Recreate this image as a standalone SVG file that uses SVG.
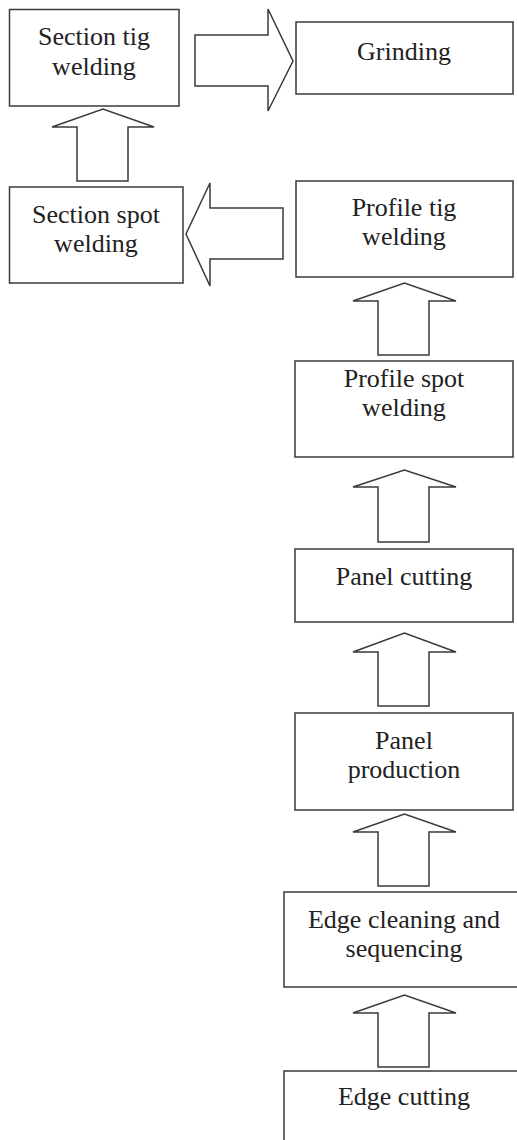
<svg xmlns="http://www.w3.org/2000/svg" width="517" height="1140" viewBox="0 0 517 1140">
<style>
.box{fill:#fff;stroke:#3a3a3a;stroke-width:1.5}
.arr{fill:#fff;stroke:#3a3a3a;stroke-width:1.5;stroke-linejoin:miter}
text{font-family:"Liberation Serif","Times New Roman",serif;font-size:26px;fill:#222;text-anchor:middle}
</style>
<rect width="517" height="1140" fill="#fff"/>
<g id="connectors">
<polygon class="arr" points="195,35 268,35 268,9 293,61 268,111 268,86 195,86"/>
<polygon class="arr" points="77,181 77,127 52,127 103,109 154,127 128,127 128,181"/>
<polygon class="arr" points="283,208 210,208 210,183 186,234 210,286 210,259 283,259"/>
<polygon class="arr" points="378,355 378,301 353,301 404.5,283 456,301 429,301 429,355"/>
<polygon class="arr" points="378,542 378,487 353,487 404.5,470 456,487 429,487 429,542"/>
<polygon class="arr" points="378,706 378,652 353,652 404.5,633 456,652 429,652 429,706"/>
<polygon class="arr" points="378,886 378,832 353,832 404.5,814 456,832 429,832 429,886"/>
<polygon class="arr" points="378,1067 378,1013 353,1013 404.5,995 456,1013 429,1013 429,1067"/>
</g>
<g id="section-tig"><rect class="box" x="9.5" y="9.5" width="169.5" height="96.5"/><text x="94" y="45">Section tig</text><text x="94" y="75">welding</text></g>
<g id="grinding"><rect class="box" x="296" y="22" width="217" height="72"/><text x="404" y="60">Grinding</text></g>
<g id="section-spot"><rect class="box" x="9.5" y="187" width="173.5" height="96"/><text x="96" y="223">Section spot</text><text x="96" y="252">welding</text></g>
<g id="profile-tig"><rect class="box" x="296" y="181" width="217" height="96"/><text x="404" y="216">Profile tig</text><text x="404" y="245">welding</text></g>
<g id="profile-spot"><rect class="box" x="295" y="361" width="218" height="96"/><text x="404" y="387">Profile spot</text><text x="404" y="416">welding</text></g>
<g id="panel-cutting"><rect class="box" x="295" y="549" width="218" height="73"/><text x="404" y="585">Panel cutting</text></g>
<g id="panel-production"><rect class="box" x="295" y="713" width="218" height="97"/><text x="404" y="749">Panel</text><text x="404" y="778">production</text></g>
<g id="edge-cleaning"><rect class="box" x="284" y="892" width="240" height="95"/><text x="404" y="928">Edge cleaning and</text><text x="404" y="957">sequencing</text></g>
<g id="edge-cutting"><rect class="box" x="284" y="1071" width="240" height="80"/><text x="404" y="1105">Edge cutting</text></g>
</svg>
